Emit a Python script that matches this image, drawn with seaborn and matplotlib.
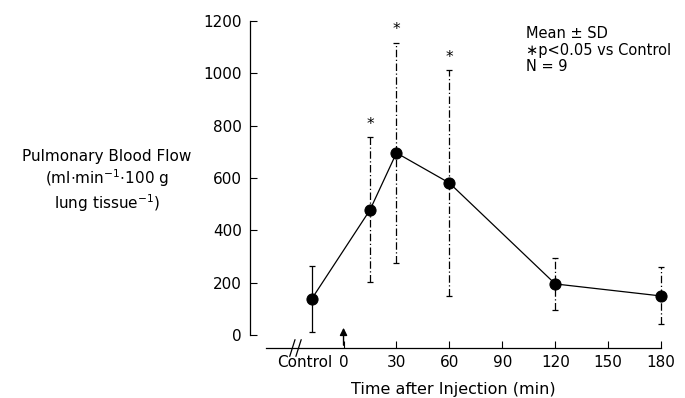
import numpy as np
import pandas as pd
import seaborn as sns
import matplotlib.pyplot as plt

# values (control drawn left of t=0)
time_min = [-18, 15, 30, 60, 120, 180]
flow_mean = [138, 478, 696, 581, 195, 149]
flow_sd = [125, 277, 422, 432, 100, 109]
significant = [False, True, True, True, False, False]
x_ticks = [-22, 0, 30, 60, 90, 120, 150, 180]
x_ticklabels = ["Control", "0", "30", "60", "90", "120", "150", "180"]
y_ticks = [0, 200, 400, 600, 800, 1000, 1200]

df = pd.DataFrame({"time": time_min, "flow": flow_mean, "sd": flow_sd, "sig": significant})

sns.set_style("ticks")
plt.rcParams['font.family'] = ['DejaVu Sans']
plt.rcParams['font.size'] = 11
plt.rcParams['text.color'] = 'black'
plt.rcParams['xtick.color'] = 'black'
plt.rcParams['ytick.color'] = 'black'
plt.rcParams['axes.edgecolor'] = 'black'

fig = plt.figure(figsize=(6.85, 3.98), dpi=100)
ax = fig.add_axes([0.365, 0.1256, 0.613, 0.8214])

# error bars: control solid, the rest dash-dotted like the scan
for i, row in df.iterrows():
    eb = ax.errorbar(row.time, row.flow, yerr=row.sd, fmt='none', ecolor='black',
                     elinewidth=0.9, capsize=2.5, capthick=0.9)
    if i > 0:
        eb[2][0].set_linestyle((0, (6, 2, 1, 2)))
    if row.sig:
        ax.text(row.time, row.flow + row.sd + 20, "*", ha='center', va='bottom', fontsize=11)

sns.lineplot(data=df, x="time", y="flow", ax=ax, color='black', linewidth=0.9,
             marker='o', markersize=8, markeredgecolor='black', markerfacecolor='black')

ax.set_xlim(-53, 185)
ax.set_ylim(-50, 1200)
ax.spines[['right', 'top']].set_visible(False)
ax.spines['left'].set_bounds(0, 1200)
ax.spines['bottom'].set_bounds(-44, 180)
ax.spines[['left', 'bottom']].set_linewidth(0.9)

ax.set_yticks(y_ticks)
ax.set_xticks(x_ticks)
ax.set_xticklabels(x_ticklabels)
ax.tick_params(axis='both', direction='in', length=5, width=0.8, labelsize=11)
ax.tick_params(axis='x', pad=5)
ax.tick_params(axis='y', pad=6)
ax.xaxis.get_major_ticks()[0].tick1line.set_visible(False)
ax.set_xlabel("")
ax.set_ylabel("")

# axis break marks
for dx in (-29, -25.5):
    ax.plot([dx - 1.5, dx + 1.5], [-82, -18], color='black', lw=0.9, clip_on=False)

# injection arrow at t = 0
ax.annotate("", xy=(0, 38), xytext=(0, -50),
            arrowprops=dict(arrowstyle='-|>', color='black', lw=1.0, mutation_scale=11))

fig.text(0.156, 0.543, "Pulmonary Blood Flow\n(ml$\\cdot$min$^{-1}$$\\cdot$100 g\nlung tissue$^{-1}$)",
         ha='center', va='center', fontsize=11, linespacing=1.2)
fig.text(0.662, 0.0226, "Time after Injection (min)", ha='center', va='center', fontsize=11.5)
fig.text(0.768, 0.935, "Mean ± SD\n∗p<0.05 vs Control\nN = 9", ha='left', va='top',
         fontsize=10.5, linespacing=1.15)

fig.savefig("out.png", dpi=100)
